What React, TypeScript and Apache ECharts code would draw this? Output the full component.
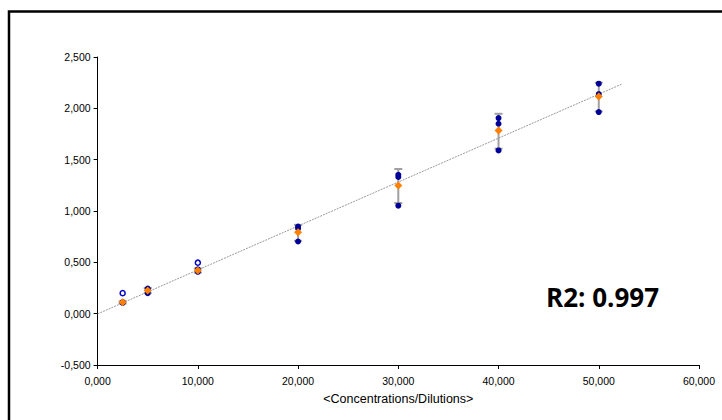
import React, { useEffect, useRef } from "react";
import * as echarts from "echarts";

const concentrations = [2.5, 5, 10, 20, 30, 40, 50];
const replicates = [
  [0.105, 0.112],
  [0.245, 0.235, 0.2],
  [0.432, 0.418, 0.408],
  [0.848, 0.83, 0.703],
  [1.353, 1.331, 1.052],
  [1.905, 1.85, 1.59],
  [2.24, 2.139, 1.964],
];
const outlierX = [2.5, 10];
const outlierY = [0.2, 0.497];
const means = [0.11, 0.225, 0.42, 0.792, 1.249, 1.785, 2.116];
const errLow = [0.1, 0.2, 0.4, 0.71, 1.078, 1.607, 1.97];
const errHigh = [0.12, 0.25, 0.44, 0.865, 1.409, 1.947, 2.25];
const trendX = [0, 52.3];
const trendY = [-0.002, 2.236];
const r2Text = "R2: 0.997";
const xName = "<Concentrations/Dilutions>";

const fmt = (v: number) => v.toFixed(3).replace(".", ",");

export default function App() {
  const ref = useRef<HTMLDivElement>(null);
  useEffect(() => {
    if (!ref.current) return;
    const chart = echarts.init(ref.current, null, { renderer: "svg" });
    const blueData: number[][] = [];
    concentrations.forEach((x, i) => replicates[i].forEach((y) => blueData.push([x, y])));
    const errData = concentrations.map((x, i) => [x, errLow[i], errHigh[i]]);
    chart.setOption({
      animation: false,
      backgroundColor: "#fff",
      grid: { left: 97.6, right: 23, top: 57, bottom: 55 },
      xAxis: {
        type: "value",
        min: 0,
        max: 60,
        interval: 10,
        name: xName,
        nameLocation: "middle",
        nameGap: 27,
        nameTextStyle: { fontFamily: "Liberation Sans", fontSize: 12.5, color: "#000" },
        axisLine: { onZero: false, lineStyle: { color: "#000", width: 1 } },
        axisTick: { show: true, length: 4, lineStyle: { color: "#000" } },
        axisLabel: { formatter: fmt, fontFamily: "Liberation Sans", fontSize: 10.5, color: "#000", margin: 10 },
        splitLine: { show: false },
      },
      yAxis: {
        type: "value",
        min: -0.5,
        max: 2.5,
        interval: 0.5,
        axisLine: { show: true, onZero: false, lineStyle: { color: "#000", width: 1 } },
        axisTick: { show: true, length: 4, lineStyle: { color: "#000" } },
        axisLabel: { formatter: fmt, fontFamily: "Liberation Sans", fontSize: 10.5, color: "#000", margin: 7 },
        splitLine: { show: false },
      },
      graphic: [
        {
          type: "rect",
          shape: { x: 9, y: 11.5, width: 740, height: 440 },
          style: { fill: "none", stroke: "#000", lineWidth: 2.5 },
          silent: true,
          z: 100,
        },
        {
          type: "text",
          x: 546,
          y: 297,
          style: {
            text: r2Text,
            fontFamily: "Open Sans",
            fontWeight: "bold",
            fontSize: 26,
            fill: "#000",
            verticalAlign: "middle",
            align: "left",
          },
          z: 100,
        },
      ],
      series: [
        {
          type: "line",
          data: trendX.map((x, i) => [x, trendY[i]]),
          showSymbol: false,
          symbol: "none",
          lineStyle: { color: "#9a9a9a", width: 1, type: [2, 1] },
          z: 1,
        },
        {
          type: "custom",
          data: errData,
          z: 2,
          renderItem: (params: any, api: any) => {
            const x = api.value(0);
            const lo = api.coord([x, api.value(1)]);
            const hi = api.coord([x, api.value(2)]);
            const st = { stroke: "#a0a0a0", lineWidth: 2 };
            return {
              type: "group",
              children: [
                { type: "line", shape: { x1: lo[0], y1: lo[1], x2: hi[0], y2: hi[1] }, style: st },
                { type: "line", shape: { x1: lo[0] - 4, y1: lo[1], x2: lo[0] + 4, y2: lo[1] }, style: st },
                { type: "line", shape: { x1: hi[0] - 4, y1: hi[1], x2: hi[0] + 4, y2: hi[1] }, style: st },
              ],
            };
          },
        },
        {
          type: "scatter",
          data: blueData,
          symbol: "circle",
          symbolSize: 6,
          itemStyle: { color: "#000099", opacity: 1 },
          z: 3,
        },
        {
          type: "scatter",
          data: outlierX.map((x, i) => [x, outlierY[i]]),
          symbol: "circle",
          symbolSize: 5,
          itemStyle: { color: "#fff", borderColor: "#0000cc", borderWidth: 1.5, opacity: 1 },
          z: 3,
        },
        {
          type: "scatter",
          data: concentrations.map((x, i) => [x, means[i]]),
          symbol: "diamond",
          symbolSize: 8,
          itemStyle: { color: "#ff8000", opacity: 1 },
          z: 4,
        },
      ],
    });
    return () => chart.dispose();
  }, []);
  return (
    <div
      ref={ref}
      style={{ position: "absolute", left: 0, top: 0, width: 722, height: 420, background: "#fff" }}
    />
  );
}
